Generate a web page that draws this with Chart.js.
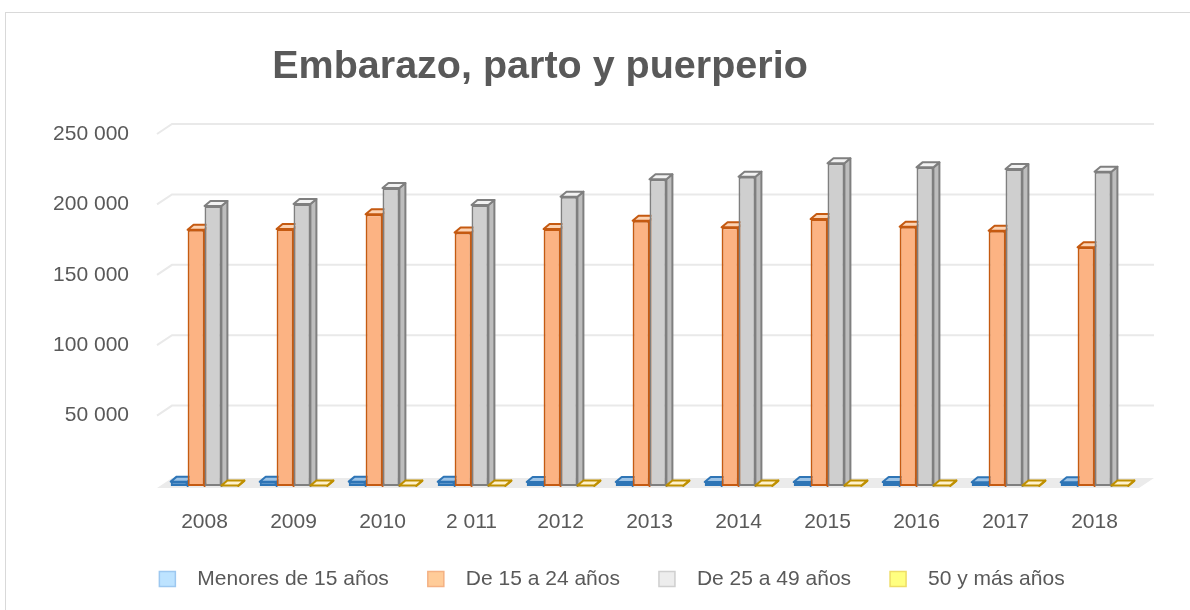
<!DOCTYPE html>
<html lang="es">
<head>
    <meta charset="UTF-8">
    <title>Embarazo, parto y puerperio</title>
    <script src="https://cdn.jsdelivr.net/npm/chart.js@4.4.1/dist/chart.umd.min.js"></script>
    <style>
        html, body {
            margin: 0;
            padding: 0;
            background: #fff;
            overflow: hidden;
        }
        .wrap {
            position: relative;
            width: 1190px;
            height: 610px;
        }
        .frame {
            position: absolute;
            left: 5px;
            top: 12px;
            width: 1300px;
            height: 700px;
            border: 1.5px solid #d9d9d9;
        }
        canvas {
            position: absolute;
            left: 0;
            top: 0;
        }
    </style>
</head>
<body>
<div class="wrap">
    <div class="frame"></div>
    <canvas id="grafico" width="1190" height="610"></canvas>
</div>

<script>
    const titulo = 'Embarazo, parto y puerperio';
    const anios = ['2008', '2009', '2010', '2 011', '2012', '2013', '2014', '2015', '2016', '2017', '2018'];
    const menores15 = [3100, 3000, 3100, 3000, 2900, 2900, 2900, 2800, 2800, 2700, 2600];
    const de15a24 = [182000, 182500, 193000, 180000, 182500, 188400, 183700, 189600, 184200, 181300, 169500];
    const de25a49 = [198900, 200300, 211600, 199600, 205500, 217800, 219700, 229200, 226300, 225100, 223200];
    const mas50 = [400, 400, 400, 400, 400, 400, 400, 400, 400, 400, 400];
    const nombres = ['Menores de 15 años', 'De 15 a 24 años', 'De 25 a 49 años', '50 y más años'];

    const gris = '#595959';
    const fuente = '"Liberation Sans", Arial, sans-serif';
    const DX = 6, DY = -5;      // profundidad de las barras
    const PX = 15, PY = -10;    // profundidad del suelo / rejilla

    // estilos por serie: frente, lado, tapa, borde, leyenda
    const estilos = [
        { front: '#5B9BD5', side: '#3F7FBF', top: '#9DC3E6', border: '#2E75B6', lf: '#BDE3FF', lb: '#9DC8F0' },
        { front: '#FCB383', side: '#F29A60', top: '#FCD3B3', border: '#C55A11', lf: '#FFCC99', lb: '#F4B183' },
        { front: '#CFCFCF', side: '#BDBDBD', top: '#F2F2F2', border: '#7F7F7F', lf: '#EDEDED', lb: '#CFCFCF' },
        { front: '#FFD966', side: '#E6BB30', top: '#FFF2CC', border: '#BF9000', lf: '#FFFF80', lb: '#EEDD66' }
    ];
    const series = [menores15, de15a24, de25a49, mas50];

    function formatoMiles(v) {
        return String(v).replace(/\B(?=(\d{3})+(?!\d))/g, ' ');
    }

    // suelo y rejilla en perspectiva
    const fondo3d = {
        id: 'fondo3d',
        beforeDatasetsDraw(chart) {
            const ctx = chart.ctx;
            const y = chart.scales.y;
            const a = chart.chartArea;
            const x0 = a.left - 3;
            ctx.save();
            ctx.strokeStyle = '#e9e9e9';
            ctx.lineWidth = 2;
            y.ticks.forEach(t => {
                if (t.value === 0) return;
                const py = y.getPixelForValue(t.value);
                ctx.beginPath();
                ctx.moveTo(x0, py);
                ctx.lineTo(x0 + PX, py + PY);
                ctx.lineTo(a.right + PX, py + PY);
                ctx.stroke();
            });
            const b = y.getPixelForValue(0) + 2;
            ctx.fillStyle = '#ebebeb';
            ctx.beginPath();
            ctx.moveTo(x0, b);
            ctx.lineTo(a.right, b);
            ctx.lineTo(a.right + PX, b + PY);
            ctx.lineTo(x0 + PX, b + PY);
            ctx.closePath();
            ctx.fill();
            ctx.restore();
        },
        beforeDatasetDraw() {
            return false;
        },
        afterDatasetsDraw(chart) {
            const ctx = chart.ctx;
            ctx.save();
            chart.data.datasets.forEach((ds, i) => {
                const meta = chart.getDatasetMeta(i);
                const e = estilos[i];
                meta.data.forEach(bar => {
                    const p = bar.getProps(['x', 'y', 'base', 'width'], true);
                    const l = p.x - p.width / 2, r = p.x + p.width / 2;
                    ctx.lineWidth = 2;
                    ctx.strokeStyle = e.border;
                    ctx.lineJoin = 'round';
                    // lado
                    ctx.fillStyle = e.side;
                    ctx.beginPath();
                    ctx.moveTo(r, p.y);
                    ctx.lineTo(r + DX, p.y + DY);
                    ctx.lineTo(r + DX, p.base + DY);
                    ctx.lineTo(r, p.base);
                    ctx.closePath();
                    ctx.fill();
                    ctx.stroke();
                    // tapa
                    ctx.fillStyle = e.top;
                    ctx.beginPath();
                    ctx.moveTo(l, p.y);
                    ctx.lineTo(r, p.y);
                    ctx.lineTo(r + DX, p.y + DY);
                    ctx.lineTo(l + DX, p.y + DY);
                    ctx.closePath();
                    ctx.fill();
                    ctx.stroke();
                    // frente (la barra de Chart.js)
                    bar.draw(ctx, chart.chartArea);
                });
            });
            ctx.restore();
        }
    };

    // título y leyenda
    const textos = {
        id: 'textos',
        afterDraw(chart) {
            const ctx = chart.ctx;
            ctx.save();
            ctx.fillStyle = gris;
            ctx.font = 'bold 39.5px ' + fuente;
            ctx.textAlign = 'center';
            ctx.textBaseline = 'alphabetic';
            ctx.fillText(titulo, 540, 78);

            ctx.font = '21px ' + fuente;
            ctx.textAlign = 'left';
            ctx.textBaseline = 'middle';
            const cajas = chart.data.datasets.map(ds => ctx.measureText(ds.label).width);
            const total = cajas.reduce((s, w) => s + 16 + 22 + w, 0) + 39 * (cajas.length - 1);
            let x = 612 - total / 2;
            const yc = 579;
            chart.data.datasets.forEach((ds, i) => {
                const e = estilos[i];
                ctx.fillStyle = e.lf;
                ctx.strokeStyle = e.lb;
                ctx.lineWidth = 1.5;
                ctx.fillRect(x, yc - 7.5, 16, 15);
                ctx.strokeRect(x, yc - 7.5, 16, 15);
                ctx.fillStyle = gris;
                ctx.fillText(ds.label, x + 38, yc);
                x += 38 + cajas[i] + 39;
            });
            ctx.restore();
        }
    };

    new Chart(document.getElementById('grafico'), {
        type: 'bar',
        data: {
            labels: anios,
            datasets: series.map((vals, i) => ({
                label: nombres[i],
                data: vals,
                backgroundColor: estilos[i].front,
                borderColor: estilos[i].border,
                borderWidth: 2,
                borderSkipped: false,
                categoryPercentage: 0.76,
                barPercentage: 1.0
            }))
        },
        options: {
            responsive: false,
            animation: false,
            layout: {
                padding: { top: 134, right: 51, bottom: 0, left: 0 }
            },
            plugins: {
                legend: { display: false },
                title: { display: false },
                tooltip: { enabled: false }
            },
            scales: {
                x: {
                    grid: { display: false },
                    border: { display: false },
                    ticks: {
                        color: gris,
                        font: { family: fuente, size: 21 },
                        padding: 16,
                        maxRotation: 0,
                        autoSkip: false
                    },
                    afterFit(s) { s.height = 124; }
                },
                y: {
                    min: 0,
                    max: 250000,
                    grid: { display: false },
                    border: { display: false },
                    ticks: {
                        stepSize: 50000,
                        color: gris,
                        font: { family: fuente, size: 21 },
                        padding: 23,
                        callback: v => v === 0 ? '' : formatoMiles(v)
                    },
                    afterFit(s) { s.width = 160; }
                }
            }
        },
        plugins: [fondo3d, textos]
    });
</script>
</body>
</html>
